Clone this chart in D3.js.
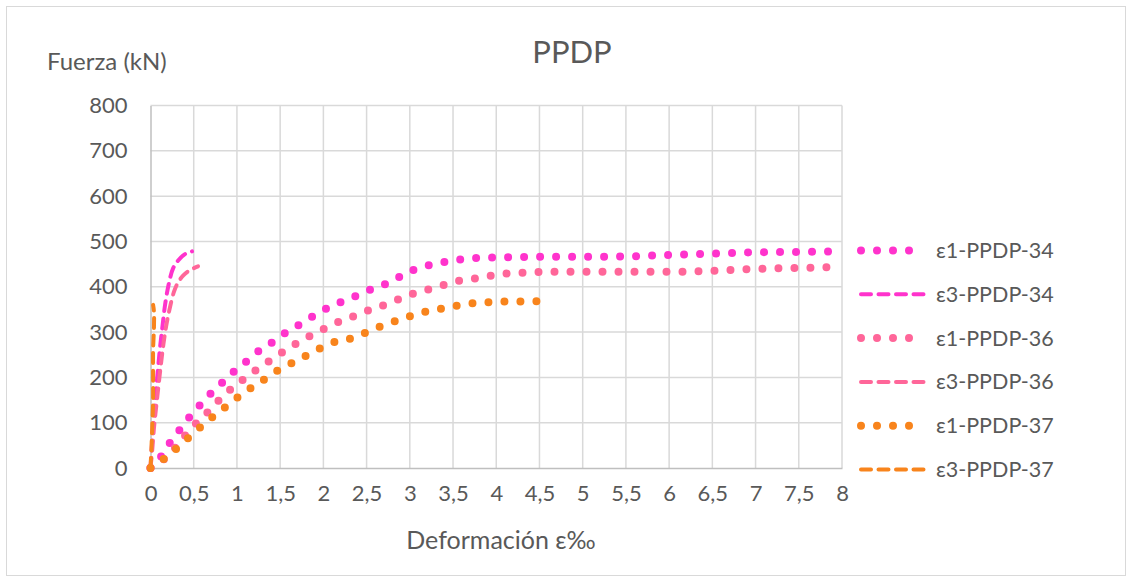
<!DOCTYPE html>
<html>
<head>
<meta charset="utf-8">
<script src="https://cdn.jsdelivr.net/npm/d3@7"></script>
<style>
  html, body { margin: 0; padding: 0; background: #fff; }
  svg { display: block; }
  text { font-family: Lato, "Open Sans", sans-serif; fill: #595959; }
</style>
</head>
<body>
<svg id="chart" width="1132" height="581"></svg>
<script>
// ---- data ----
const seriesNames = ["ε1-PPDP-34", "ε3-PPDP-34", "ε1-PPDP-36", "ε3-PPDP-36", "ε1-PPDP-37", "ε3-PPDP-37"];
const xTicks = [0, 0.5, 1, 1.5, 2, 2.5, 3, 3.5, 4, 4.5, 5, 5.5, 6, 6.5, 7, 7.5, 8];
const yTicks = [0, 100, 200, 300, 400, 500, 600, 700, 800];

const e1_34_x = [0, 0.08, 0.17, 0.29, 0.39, 0.51, 0.61, 0.73, 0.85, 0.96, 1.09, 1.22, 1.37, 1.51, 1.66, 1.81, 1.97, 2.12, 2.30, 2.46, 2.63, 2.81, 2.94, 3.12, 3.29, 3.48, 3.66, 3.85, 4.5, 5.0, 5.5, 6.0, 6.5, 7.0, 7.5, 8.0];
const e1_34_y = [0, 12, 42, 71, 99, 124, 148, 170, 192, 212, 232, 254, 272, 292, 309, 327, 345, 360, 373, 387, 400, 413, 429, 442, 451, 457, 462, 464, 466, 466, 467, 470, 473, 476, 477, 478];

const e3_34_x = [0, 0.02, 0.05, 0.08, 0.11, 0.14, 0.17, 0.21, 0.26, 0.32, 0.40, 0.48];
const e3_34_y = [0, 60, 140, 205, 265, 315, 362, 405, 440, 458, 472, 478];

const e1_36_x = [0, 0.08, 0.16, 0.28, 0.40, 0.52, 0.64, 0.75, 0.88, 1.01, 1.15, 1.29, 1.44, 1.59, 1.74, 1.89, 2.06, 2.23, 2.40, 2.56, 2.74, 2.88, 3.04, 3.21, 3.39, 3.56, 3.74, 3.93, 4.12, 4.30, 4.67, 5.2, 5.97, 6.5, 6.71, 7.08, 7.64, 8.0];
const e1_36_y = [0, 8, 20, 44, 72, 97, 119, 141, 166, 186, 207, 225, 245, 263, 281, 296, 312, 327, 338, 351, 362, 373, 385, 394, 404, 413, 418, 424, 429, 431, 433, 433, 433, 435, 437, 440, 442, 444];

const e3_36_x = [0, 0.02, 0.04, 0.08, 0.12, 0.15, 0.18, 0.22, 0.27, 0.32, 0.38, 0.45, 0.55];
const e3_36_y = [0, 40, 88, 160, 228, 274, 312, 350, 388, 410, 425, 436, 445];

const e1_37_x = [0, 0.12, 0.24, 0.37, 0.51, 0.65, 0.78, 0.91, 1.03, 1.18, 1.32, 1.46, 1.62, 1.77, 1.93, 2.09, 2.27, 2.43, 2.61, 2.77, 2.94, 3.12, 3.30, 3.48, 3.66, 3.85, 4.03, 4.62];
const e1_37_y = [0, 15, 33, 55, 79, 102, 122, 141, 159, 179, 196, 214, 230, 245, 261, 276, 283, 294, 309, 320, 331, 342, 349, 356, 362, 365, 367, 368];

const e3_37_x = [0, 0.01, 0.02, 0.03, 0.03, 0.03, 0.04, 0.04, 0.03];
const e3_37_y = [0, 40, 90, 150, 200, 260, 310, 345, 360];

const seriesColors = ["#FF33CC", "#FF33CC", "#FF6699", "#FF6699", "#F8841C", "#F8841C"];
const seriesKinds = ["dot", "dash", "dot", "dash", "dot", "dash"];

// ---- build ----
const xs = [e1_34_x, e3_34_x, e1_36_x, e3_36_x, e1_37_x, e3_37_x];
const ys = [e1_34_y, e3_34_y, e1_36_y, e3_36_y, e1_37_y, e3_37_y];
const series = seriesNames.map((name, i) => ({
  name, color: seriesColors[i], kind: seriesKinds[i],
  points: xs[i].map((x, j) => ({ x, y: ys[i][j] }))
}));

const svg = d3.select("#chart");
const W = 1132, H = 581;
const plot = { left: 150.5, right: 842, top: 105.5, bottom: 468 };
const FS = 22;

svg.append("rect").attr("x", 6.5).attr("y", 6.5).attr("width", W - 13).attr("height", H - 12)
  .attr("fill", "#fff").attr("stroke", "#d9d9d9").attr("stroke-width", 1);

const x = d3.scaleLinear().domain([0, 8]).range([plot.left, plot.right]);
const y = d3.scaleLinear().domain([0, 800]).range([plot.bottom, plot.top]);

// gridlines
const grid = svg.append("g");
grid.selectAll("line.v").data(xTicks.slice(1)).join("line")
  .attr("x1", d => x(d)).attr("x2", d => x(d))
  .attr("y1", plot.top).attr("y2", plot.bottom)
  .attr("stroke", "#d9d9d9").attr("stroke-width", 1.5);
grid.selectAll("line.h").data(yTicks.slice(1)).join("line")
  .attr("x1", plot.left).attr("x2", plot.right)
  .attr("y1", d => y(d)).attr("y2", d => y(d))
  .attr("stroke", "#d9d9d9").attr("stroke-width", 1.5);

// axes
const fmt = d => String(d).replace(".", ",");
const xAxis = svg.append("g").attr("transform", `translate(0,${plot.bottom})`)
  .call(d3.axisBottom(x).tickValues(xTicks).tickFormat(fmt).tickSize(0).tickPadding(17));
const yAxis = svg.append("g").attr("transform", `translate(${plot.left},0)`)
  .call(d3.axisLeft(y).tickValues(yTicks).tickSize(0).tickPadding(23));
[xAxis, yAxis].forEach(a => {
  a.select(".domain").attr("stroke", "#bfbfbf").attr("stroke-width", 1.5);
  a.selectAll("text").attr("font-family", "Lato, sans-serif").attr("font-size", FS).attr("fill", "#595959");
});

// series
const lineGen = d3.line().x(d => x(d.x)).y(d => y(d.y));
const g = svg.append("g");
series.forEach(s => {
  const gen = lineGen.curve(s.kind === "dot" ? d3.curveMonotoneX : d3.curveCatmullRom.alpha(0.5));
  const p = g.append("path").datum(s.points)
    .attr("d", gen)
    .attr("fill", "none")
    .attr("stroke", s.color)
    .attr("stroke-linecap", "round");
  if (s.kind === "dot") p.attr("stroke-width", 8).attr("stroke-dasharray", "0 16");
  else p.attr("stroke-width", 4).attr("stroke-dasharray", "10 7.5");
});

// titles
svg.append("text").attr("x", 572).attr("y", 63).attr("text-anchor", "middle")
  .attr("font-size", 31).text("PPDP");
svg.append("text").attr("x", 47).attr("y", 70).attr("font-size", 24).text("Fuerza (kN)");
svg.append("text").attr("x", 501).attr("y", 549).attr("text-anchor", "middle")
  .attr("font-size", 25).text("Deformación ε‰");

// legend
const legY0 = 250.5, legDy = 43.8;
const leg = svg.append("g");
series.forEach((s, i) => {
  const ly = legY0 + i * legDy;
  const ln = leg.append("line").attr("x1", 861).attr("x2", s.kind === "dot" ? 925 : 930)
    .attr("y1", ly).attr("y2", ly)
    .attr("stroke", s.color).attr("stroke-linecap", "round");
  if (s.kind === "dot") ln.attr("stroke-width", 8).attr("stroke-dasharray", "0 16");
  else ln.attr("stroke-width", 4).attr("stroke-dasharray", "10 7.5");
  leg.append("text").attr("x", 936).attr("y", ly).attr("dy", "0.35em")
    .attr("font-size", 21.5).text(s.name);
});
</script>
</body>
</html>
